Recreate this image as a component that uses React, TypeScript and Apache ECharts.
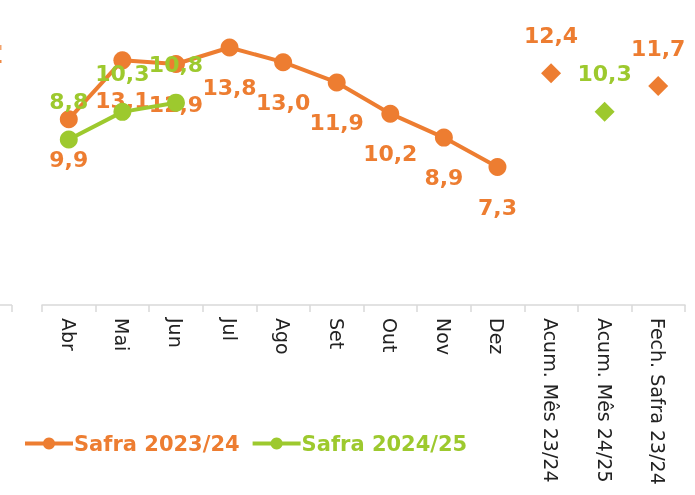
import React, { useEffect, useRef } from "react";
import * as echarts from "echarts";

const categories = ["Abr", "Mai", "Jun", "Jul", "Ago", "Set", "Out", "Nov", "Dez", "Acum. Mês 23/24", "Acum. Mês 24/25", "Fech. Safra 23/24"];
const safra2324 = [9.9, 13.1, 12.9, 13.8, 13.0, 11.9, 10.2, 8.9, 7.3, null, null, null];
const safra2425 = [8.8, 10.3, 10.8, null, null, null, null, null, null, null, null, null];
const acumOrange = [null, null, null, null, null, null, null, null, null, 12.4, null, 11.7];
const acumGreen = [null, null, null, null, null, null, null, null, null, null, 10.3, null];

const ORANGE = "#ED7D31";
const GREEN = "#9DC92E";
const LABEL_FONT = "DejaVu Sans";

const fmt = (p: any) => (p.value == null ? "" : Number(p.value).toFixed(1).replace(".", ","));

export default function App() {
  const ref = useRef<HTMLDivElement>(null);
  useEffect(() => {
    if (!ref.current) return;
    const chart = echarts.init(ref.current, undefined, { renderer: "svg" });
    const labelStyle = (color: string, position: string, distance: number) => ({
      show: true,
      position,
      distance,
      color,
      fontFamily: LABEL_FONT,
      fontWeight: "bold",
      fontSize: 22,
      formatter: fmt,
    });
    chart.setOption({
      animation: false,
      grid: { left: 42, right: 10, top: 7, bottom: 190 },
      legend: {
        left: 18,
        top: 428,
        itemWidth: 48,
        itemHeight: 15,
        itemGap: 11,
        lineStyle: { width: 4 },
        data: [
          { name: "Safra 2023/24", textStyle: { color: ORANGE } },
          { name: "Safra 2024/25", textStyle: { color: GREEN } },
        ],
        textStyle: { fontFamily: LABEL_FONT, fontWeight: "bold", fontSize: 21, padding: [0, 0, 0, -4] },
      },
      xAxis: {
        type: "category",
        data: categories,
        boundaryGap: true,
        axisLine: { onZero: false, lineStyle: { color: "#d9d9d9", width: 1.5 } },
        axisTick: { show: true, length: 7, lineStyle: { color: "#d9d9d9", width: 1.5 } },
        axisLabel: { rotate: -90, margin: 13, color: "#222", fontFamily: "DejaVu Sans", fontSize: 19 },
      },
      yAxis: { type: "value", min: -0.2, max: 16, show: false, splitLine: { show: false } },
      graphic: [
        { type: "line", shape: { x1: 0, y1: 305, x2: 12, y2: 305 }, style: { stroke: "#d9d9d9", lineWidth: 1.5 } },
        { type: "line", shape: { x1: 12, y1: 305, x2: 12, y2: 312 }, style: { stroke: "#d9d9d9", lineWidth: 1.5 } },
        { type: "rect", shape: { x: 0, y: 45, width: 1.5, height: 5 }, style: { fill: ORANGE, opacity: 0.7 } },
        { type: "rect", shape: { x: 0, y: 60, width: 1.5, height: 3 }, style: { fill: ORANGE, opacity: 0.9 } },
      ],
      series: [
        {
          name: "Safra 2023/24",
          type: "line",
          data: safra2324,
          color: ORANGE,
          symbol: "circle",
          symbolSize: 18,
          lineStyle: { width: 4, color: ORANGE },
          itemStyle: { color: ORANGE },
          label: labelStyle(ORANGE, "bottom", 20),
          z: 2,
        },
        {
          name: "Safra 2024/25",
          type: "line",
          data: safra2425,
          color: GREEN,
          symbol: "circle",
          symbolSize: 18,
          lineStyle: { width: 4, color: GREEN },
          itemStyle: { color: GREEN },
          label: labelStyle(GREEN, "top", 18),
          z: 3,
        },
        {
          name: "Acum 23/24",
          type: "scatter",
          data: acumOrange,
          symbol: "diamond",
          symbolSize: 20,
          itemStyle: { color: ORANGE, opacity: 1 },
          label: labelStyle(ORANGE, "top", 17),
        },
        {
          name: "Acum 24/25",
          type: "scatter",
          data: acumGreen,
          symbol: "diamond",
          symbolSize: 20,
          itemStyle: { color: GREEN, opacity: 1 },
          label: labelStyle(GREEN, "top", 17),
        },
      ],
    });
    return () => chart.dispose();
  }, []);
  return <div ref={ref} style={{ position: "fixed", left: 0, top: 0, width: 695, height: 495 }} />;
}
